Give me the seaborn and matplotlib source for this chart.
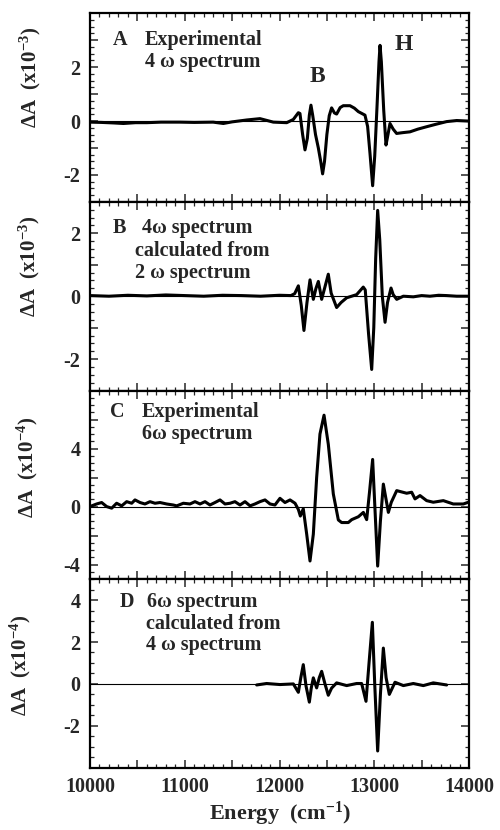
import matplotlib
matplotlib.use("Agg")
import matplotlib.pyplot as plt
import seaborn as sns
import pandas as pd
from matplotlib.ticker import MultipleLocator, FuncFormatter

# ---------------- data ----------------
energy_a = [10000, 10120, 10250, 10352, 10480, 10600, 10750, 10950, 11100, 11300,
            11407, 11500, 11654, 11794, 11935, 12076, 12146, 12199, 12216, 12244,
            12269, 12294, 12315, 12332, 12350, 12380, 12410, 12435, 12455, 12475,
            12500, 12525, 12550, 12580, 12603, 12640, 12673, 12744, 12790, 12832,
            12902, 12930, 12955, 12983, 13005, 13030, 13050, 13061, 13075, 13100,
            13124, 13145, 13166, 13200, 13236, 13300, 13377, 13460, 13553, 13650,
            13764, 13870, 13993]
delta_a = [-0.04, -0.05, -0.07, -0.09, -0.06, -0.06, -0.04, -0.04, -0.05, -0.04,
           -0.09, -0.03, 0.04, 0.09, -0.04, -0.06, 0.06, 0.31, 0.28, -0.5,
           -1.07, -0.64, 0.22, 0.59, 0.22, -0.5, -1.0, -1.5, -1.96, -1.5,
           -0.5, 0.2, 0.49, 0.3, 0.26, 0.5, 0.57, 0.57, 0.48, 0.35,
           0.22, -0.2, -1.2, -2.4, -1.3, 0.6, 2.2, 2.81, 2.2, 0.4,
           -0.89, -0.5, -0.09, -0.3, -0.46, -0.43, -0.4, -0.3, -0.21, -0.12,
           -0.02, 0.02, 0.0]

energy_b = [10000, 10200, 10400, 10600, 10800, 11000, 11200, 11400, 11600, 11800,
            12000, 12120, 12160, 12199, 12230, 12258, 12290, 12322, 12340, 12357,
            12385, 12410, 12430, 12445, 12480, 12515, 12545, 12603, 12650, 12709,
            12814, 12884, 12905, 12940, 12973, 12995, 13015, 13036, 13058, 13085,
            13114, 13140, 13177, 13200, 13237, 13307, 13412, 13500, 13588, 13680,
            13764, 13870, 13993]
delta_b = [0.02, 0.0, 0.03, 0.01, 0.04, 0.02, 0.0, 0.03, 0.02, 0.0,
           0.03, 0.02, 0.08, 0.33, -0.3, -1.09, -0.2, 0.52, 0.2, -0.1,
           0.25, 0.47, 0.15, -0.1, 0.3, 0.7, 0.1, -0.36, -0.2, -0.05,
           0.05, 0.29, 0.2, -1.2, -2.33, -1.0, 1.2, 2.73, 1.8, 0.0,
           -0.83, -0.2, 0.26, 0.05, -0.1, 0.0, -0.02, 0.02, 0.0, 0.03,
           0.02, 0.0, 0.0]

energy_c = [10018, 10070, 10123, 10176, 10229, 10281, 10334, 10387, 10440, 10475,
            10528, 10580, 10633, 10686, 10739, 10809, 10879, 10915, 10985, 11055,
            11108, 11161, 11214, 11266, 11319, 11372, 11425, 11478, 11530, 11583,
            11636, 11689, 11741, 11794, 11847, 11900, 11952, 12005, 12058, 12111,
            12164, 12199, 12220, 12251, 12287, 12322, 12357, 12392, 12427, 12470,
            12515, 12568, 12621, 12656, 12726, 12762, 12832, 12885, 12920, 12950,
            12983, 13010, 13036, 13065, 13096, 13149, 13180, 13237, 13342, 13395,
            13430, 13483, 13553, 13623, 13729, 13834, 13940, 13993]
delta_c = [0.05, 0.18, 0.28, 0.0, -0.11, 0.23, 0.05, 0.34, 0.23, 0.46,
           0.28, 0.18, 0.34, 0.23, 0.28, 0.18, 0.11, 0.05, 0.23, 0.18,
           0.34, 0.18, 0.34, 0.11, 0.28, 0.46, 0.18, 0.23, 0.34, 0.11,
           0.34, 0.05, 0.18, 0.34, 0.46, 0.18, 0.11, 0.57, 0.28, 0.46,
           0.23, -0.2, -0.65, -0.15, -1.9, -3.75, -1.9, 2.0, 5.0, 6.3,
           4.3, 0.87, -0.92, -1.1, -1.1, -0.9, -0.7, -0.4, -0.9, 1.0,
           3.25, -0.5, -4.1, -1.0, 1.55, -0.4, 0.3, 1.1, 0.92, 0.99,
           0.53, 0.76, 0.41, 0.3, 0.41, 0.18, 0.18, 0.3]

energy_d = [11759, 11864, 12005, 12146, 12199, 12225, 12251, 12280, 12315, 12335,
            12357, 12392, 12420, 12445, 12480, 12515, 12550, 12603, 12709, 12814,
            12867, 12913, 12945, 12980, 13005, 13036, 13065, 13096, 13125, 13159,
            13219, 13307, 13412, 13518, 13623, 13764]
delta_d = [-0.05, 0.02, -0.03, 0.0, -0.4, 0.3, 0.92, -0.1, -0.87, -0.2,
           0.29, -0.19, 0.3, 0.6, 0.0, -0.54, -0.2, 0.05, -0.08, 0.02,
           0.02, -0.83, 1.0, 2.94, 0.0, -3.2, -0.5, 1.71, 0.3, -0.5,
           0.08, -0.08, 0.02, -0.08, 0.05, -0.05]

x_tick_labels = [10000, 11000, 12000, 13000, 14000]

# ---------------- style ----------------
sns.set_style("ticks")
plt.rcParams["font.family"] = ["Liberation Serif", "DejaVu Serif"]
plt.rcParams["font.weight"] = "bold"
plt.rcParams["axes.unicode_minus"] = False
plt.rcParams["mathtext.fontset"] = "custom"
plt.rcParams["mathtext.rm"] = "Liberation Serif:bold"
plt.rcParams["mathtext.it"] = "Liberation Serif:bold"
plt.rcParams["mathtext.bf"] = "Liberation Serif:bold"

fig, axes = plt.subplots(4, 1, figsize=(5.0, 8.3), dpi=100, sharex=True)
fig.subplots_adjust(left=0.18, right=0.938, top=0.984, bottom=0.075, hspace=0)

panels = [
    dict(x=energy_a, y=delta_a, ylim=(-3, 4), major=1, minor=0.25, labels=[-2, 0, 2],
         exp="-3", lab_xy=(-0.124, 0.66)),
    dict(x=energy_b, y=delta_b, ylim=(-3, 3), major=1, minor=0.25, labels=[-2, 0, 2],
         exp="-3", lab_xy=(-0.127, 0.66)),
    dict(x=energy_c, y=delta_c, ylim=(-5, 8), major=2, minor=0.5, labels=[-4, 0, 4],
         exp="-4", lab_xy=(-0.132, 0.59)),
    dict(x=energy_d, y=delta_d, ylim=(-4, 5), major=2, minor=0.5, labels=[-2, 0, 2, 4],
         exp="-4", lab_xy=(-0.15, 0.54)),
]

for ax, p in zip(axes, panels):
    df = pd.DataFrame({"Energy": p["x"], "dA": p["y"]})
    ax.axhline(0, color="black", lw=0.8, zorder=1)
    sns.lineplot(data=df, x="Energy", y="dA", ax=ax, color="black", lw=2.2,
                 sort=False, zorder=3)
    ax.set_xlim(10000, 14000)
    ax.set_ylim(*p["ylim"])
    ax.yaxis.set_major_locator(MultipleLocator(p["major"]))
    ax.yaxis.set_minor_locator(MultipleLocator(p["minor"]))
    labs = p["labels"]
    ax.yaxis.set_major_formatter(FuncFormatter(
        lambda v, pos, labs=labs: f"{int(round(v))}" if any(abs(v - l) < 1e-6 for l in labs) else ""))
    ax.xaxis.set_major_locator(MultipleLocator(500))
    ax.xaxis.set_minor_locator(MultipleLocator(100))
    ax.xaxis.set_major_formatter(FuncFormatter(
        lambda v, pos: f"{int(v)}" if int(round(v)) in x_tick_labels else ""))
    ax.tick_params(which="both", direction="in", top=True, right=True,
                   labelsize=14.5, pad=7)
    ax.tick_params(which="major", length=6, width=1.1)
    ax.tick_params(which="minor", length=3, width=0.9)
    for lbl in ax.get_yticklabels() + ax.get_xticklabels():
        lbl.set_fontweight("bold")
    for s in ax.spines.values():
        s.set_linewidth(1.6)
        s.set_color("black")
    ax.set_ylabel("\u0394A  (x10$^{\\mathregular{" + p["exp"] + "}}$)",
                  fontsize=15, fontweight="bold")
    ax.yaxis.set_label_coords(*p["lab_xy"])
    ax.set_xlabel("")

axes[-1].set_xlabel("Energy  (cm$^{\\mathregular{-1}}$)", fontsize=16,
                    fontweight="bold", labelpad=2)

fs = 14.5
tkw = dict(fontsize=fs, fontweight="bold", ha="left", va="center")
a, b, c, d = axes
a.text(0.061, 0.857, "A", transform=a.transAxes, **tkw)
a.text(0.145, 0.857, "Experimental", transform=a.transAxes, **tkw)
a.text(0.145, 0.74, "4 \u03c9 spectrum", transform=a.transAxes, **tkw)
a.text(0.58, 0.667, "B", transform=a.transAxes, fontsize=17, fontweight="bold",
       ha="left", va="center")
a.text(0.805, 0.836, "H", transform=a.transAxes, fontsize=17, fontweight="bold",
       ha="left", va="center")

b.text(0.061, 0.862, "B", transform=b.transAxes, **tkw)
b.text(0.137, 0.862, "4\u03c9 spectrum", transform=b.transAxes, **tkw)
b.text(0.119, 0.741, "calculated from", transform=b.transAxes, **tkw)
b.text(0.119, 0.624, "2 \u03c9 spectrum", transform=b.transAxes, **tkw)

c.text(0.053, 0.884, "C", transform=c.transAxes, **tkw)
c.text(0.137, 0.884, "Experimental", transform=c.transAxes, **tkw)
c.text(0.137, 0.767, "6\u03c9 spectrum", transform=c.transAxes, **tkw)

d.text(0.079, 0.878, "D", transform=d.transAxes, **tkw)
d.text(0.150, 0.878, "6\u03c9 spectrum", transform=d.transAxes, **tkw)
d.text(0.148, 0.761, "calculated from", transform=d.transAxes, **tkw)
d.text(0.148, 0.649, "4 \u03c9 spectrum", transform=d.transAxes, **tkw)

fig.savefig("out.png", dpi=100)
